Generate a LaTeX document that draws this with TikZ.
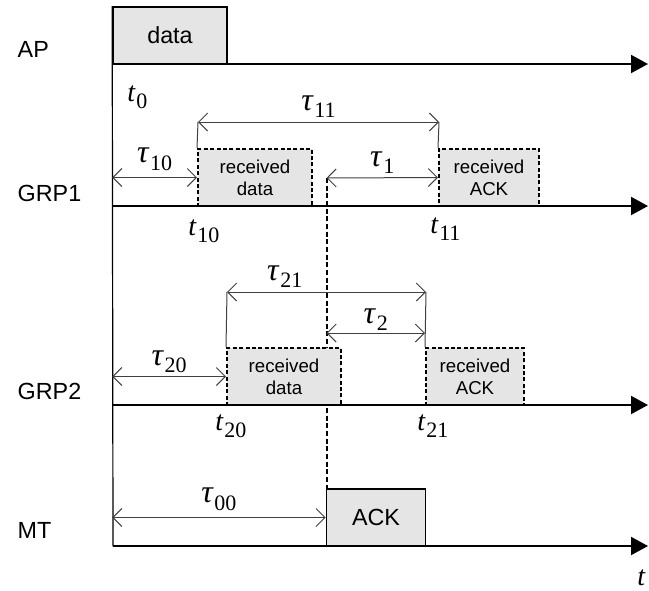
\documentclass[tikz,border=0pt]{standalone}
\usepackage{fontspec}
\setmainfont{Liberation Sans}
\newfontfamily\tms{Liberation Serif}
\usetikzlibrary{arrows.meta}

\newcommand{\tsym}[3][21]{{\tms\fontsize{#1}{#1}\selectfont\textit{#2}\kern0.5pt\raisebox{-5.5pt}{\fontsize{16.5}{16.5}\selectfont #3}}}

\begin{document}
\begin{tikzpicture}[x=0.75pt,y=-0.75pt,
  lane/.style={anchor=west,font=\fontsize{17.5}{20}\selectfont},
  txbox/.style={draw,fill=black!10,line width=1.2pt,inner sep=0pt,
    minimum height=42.75pt,font=\fontsize{17.5}{20}\selectfont},
  rxbox/.style={txbox,line width=1.5pt,dash pattern=on 3pt off 1.8pt,align=center,
    font=\fontsize{14}{16.5}\selectfont},
  axis/.style={line width=1.5pt,-{Triangle[length=12.75pt,width=13.5pt]}},
  span/.style={draw=black!75,line width=0.75pt,
    {Straight Barb[length=6.75pt,width=13.5pt]}-{Straight Barb[length=6.75pt,width=13.5pt]}},
  tick/.style={draw=black!75,line width=0.75pt},
  lbl/.style={inner sep=0pt}]
\useasboundingbox (0,0) rectangle (649,590);

% lanes
\node[lane] (ap) at (13,49.5) {AP};
\node[lane] (grp1) at (13,193.5) {GRP1};
\node[lane] (grp2) at (13,391) {GRP2};
\node[lane] (mt) at (13,530.5) {MT};

\coordinate (ap0) at (113,64);  \coordinate (ap1) at (648,64);
\coordinate (g10) at (113,206); \coordinate (g11) at (648,206);
\coordinate (g20) at (113,405); \coordinate (g21) at (648,405);
\coordinate (mt0) at (113,546); \coordinate (mt1) at (648,546);

% dashed line from GRP1 down to the ACK
\coordinate (d1) at (326.5,178);
\coordinate (d2) at (326.5,333);
\draw[line width=1.5pt,dash pattern=on 3.75pt off 2pt] (d1) -- (326.5,489);

% boxes
\node[txbox,minimum width=85.5pt] (data) at (170,35.5) {data};
\node[rxbox,minimum width=85.5pt] (rd1) at (255,177.5) {received\\data};
\node[rxbox,minimum width=75pt] (ra1) at (489,177.5) {received\\ACK};
\node[rxbox,minimum width=85.5pt] (rd2) at (284,376.5) {received\\data};
\node[rxbox,minimum width=73.5pt] (ra2) at (475,376.5) {received\\ACK};
\node[txbox,minimum width=74.25pt] (ack) at (376,517.5) {ACK};

% axes
\draw[axis] (ap0) -- (ap1);
\draw[axis] (g10) -- (g11);
\draw[axis] (g20) -- (g21);
\draw[axis] (mt0) -- (mt1);
\draw[line width=0.9pt] (data.north west) -- (mt0);
\node[lbl,anchor=west] (t) at (637,578) {\tms\fontsize{21}{21}\selectfont\textit{t}};

% GRP1 delays
\coordinate (s11a) at (198,122);
\coordinate (s11b) at (439,122);
\draw[tick] (rd1.north west) -- (s11a);
\draw[tick] (ra1.north west) -- (s11b);
\draw[span] (s11a) -- (s11b) node[lbl,midway,above=3pt] (tau11) {\tsym[24]{τ}{11}};
\draw[span] (data.north west |- rd1.west) -- (rd1.west) node[lbl,midway,above=5pt] (tau10) {\tsym[24]{τ}{10}};
\draw[span] (d1) -- (ra1.west) node[lbl,midway,above=2.5pt] (tau1) {\tsym[24]{τ}{1}};

% GRP2 delays
\coordinate (s21a) at (227,292);
\coordinate (s21b) at (426,292);
\draw[tick] (rd2.north west) -- (s21a);
\draw[tick] (ra2.north west) -- (s21b);
\draw[span] (s21a) -- (s21b) node[lbl,pos=0.29,above=3pt] (tau21) {\tsym[24]{τ}{21}};
\draw[span] (data.north west |- rd2.west) -- (rd2.west) node[lbl,midway,above=2.5pt] (tau20) {\tsym[24]{τ}{20}};
\draw[span] (d2) -- (ra2.north west |- d2) node[lbl,midway,above=1.5pt] (tau2) {\tsym[24]{τ}{2}};

% MT delay
\draw[span] (data.north west |- ack.west) -- (ack.west) node[lbl,midway,above=5pt] (tau00) {\tsym[24]{τ}{00}};

% time stamps
\node[lbl,anchor=north west] (t0) at (127,85) {\tsym{t}{0}};
\node[lbl,anchor=north west] (t10) at (188,219) {\tsym{t}{10}};
\node[lbl,anchor=north west] (t11) at (430,217) {\tsym{t}{11}};
\node[lbl,anchor=north west] (t20) at (215,414) {\tsym{t}{20}};
\node[lbl,anchor=north west] (t21) at (417,414) {\tsym{t}{21}};
\end{tikzpicture}
\end{document}
